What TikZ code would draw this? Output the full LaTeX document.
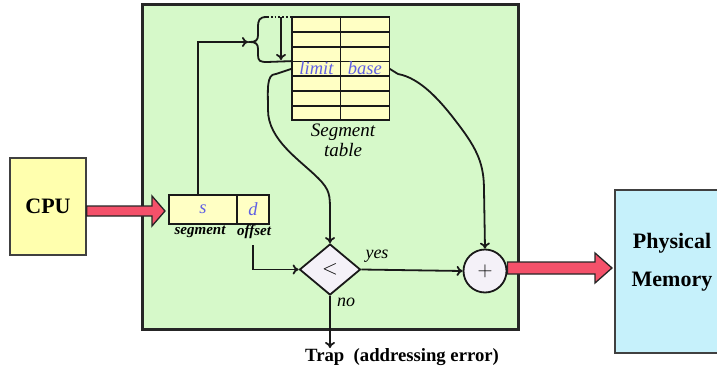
\documentclass[tikz,border=0pt]{standalone}
\usepackage{fontspec}
\setmainfont{Liberation Serif}
\usetikzlibrary{shapes.geometric,arrows.meta}
\definecolor{bggreen}{HTML}{D6F9C9}
\definecolor{cpuyel}{HTML}{FFFFAE}
\definecolor{cellyel}{HTML}{FFFFC4}
\definecolor{memcyan}{HTML}{C6F1FB}
\definecolor{arrred}{HTML}{F4516A}
\definecolor{lblue}{HTML}{6060E4}
\definecolor{dfill}{HTML}{F4F1F8}
\tikzset{
  line/.style={line width=1.8pt, draw=black!90},
  arr/.style={line, -{To[length=6pt,width=10pt]}},
  cell/.style={minimum width=48.5pt, minimum height=14.7pt, inner sep=0pt, anchor=north west},
  bigbox/.style={draw=black!75, line width=1.6pt, inner sep=0pt},
  fat/.style={fill=arrred, draw=black!85, line width=1.3pt},
  lbl/.style={text=lblue, font=\fontsize{18.5}{18}\selectfont\itshape},
}
\begin{document}
\begin{tikzpicture}[x=1pt,y=-1pt]
\useasboundingbox (0,0) rectangle (717,372);
% green region
\draw[fill=bggreen, draw=black!85, line width=3pt] (142,4) rectangle (518,329);
% CPU
\node[bigbox, fill=cpuyel, minimum width=76pt, minimum height=97pt, font=\fontsize{22}{22}\selectfont\bfseries] (cpu) at (48,206.5) {CPU};
% Physical memory
\node[bigbox, fill=memcyan, minimum width=104pt, minimum height=163pt] (mem) at (667,271.5) {};
\node[font=\fontsize{22}{38}\selectfont\bfseries, align=center] (memtxt) at (672,262) {Physical\\Memory};
% s d box
\node[draw=black!90, line width=1.8pt, fill=cellyel, minimum width=68pt, minimum height=29pt, inner sep=0pt, lbl] (s) at (203,209.5) {s};
\node[draw=black!90, line width=1.8pt, fill=cellyel, minimum width=32pt, minimum height=29pt, inner sep=0pt, lbl] (d) at (253,209.5) {d};
\node[font=\fontsize{15}{15}\selectfont\bfseries\itshape] (seglbl) at (200,232) {segment};
\node[font=\fontsize{15}{15}\selectfont\bfseries\itshape] (offlbl) at (254,232) {offset};
% segment table
\fill[cellyel] (292,17) rectangle (389,120);
\foreach \r in {1,...,7} {
  \node[cell] (c\r a) at (292,{17+(\r-1)*14.7}) {};
  \node[cell] (c\r b) at (340.5,{17+(\r-1)*14.7}) {};
}
\foreach \r in {1,...,6} { \draw[line] (c\r a.south west) -- (c\r b.south east); }
\draw[line] (c1b.north west) -- (c7b.south west);
\draw[line] (c1a.north west) rectangle (c7b.south east);
\node[lbl] (limit) at (c4a.center) {limit};
\node[lbl] (base) at (c4b.center) {base};
\node[font=\fontsize{19}{20}\selectfont\itshape, align=center] (tbl) at (343,140) {Segment\\table};
% brace
\draw[line] (267,17) .. controls (259,17) and (258,20) .. (258,28) -- (258,35)
  .. controls (258,40) and (256,42) .. (250,42)
  .. controls (256,42) and (258,44) .. (258,49) -- (258,55)
  .. controls (258,61) and (260,62) .. (267,62);
\coordinate (bracetip) at (248,42);
\draw[line, dotted] (267,17) -- (c1a.north west);
\draw[line] (267,62) -- (c4a.north west);
\draw[arr] (281,17) -- (281,60);
% s -> brace
\coordinate (sup) at (198,195);
\draw[arr] (sup) -- (198,42) -- (bracetip);
% diamond and adder
\node[diamond, draw=black!90, line width=1.8pt, fill=dfill, minimum width=61pt, minimum height=51pt, inner sep=0pt, font=\fontsize{22}{22}\selectfont] (cmp) at (330,269.5) {$<$};
\node[circle, draw=black!90, line width=1.8pt, fill=dfill, minimum size=43pt, inner sep=0pt, font=\fontsize{22}{22}\selectfont] (add) at (485,271) {$+$};
% offset -> compare
\coordinate (offdown) at (253,245);
\draw[arr] (offdown) -- (253,269.5) -- (cmp.west);
% limit -> compare
\draw[arr] (c4a.west) -- (276,74) .. controls (266,74) and (268,90) .. (268,110)
  .. controls (268,140) and (300,160) .. (318,178)
  .. controls (330,190) and (330,195) .. (330,212) -- (cmp.north);
% base -> adder
\draw[arr] (c4b.east) -- (398,74) .. controls (420,78) and (440,100) .. (458,124)
  .. controls (478,150) and (484,165) .. (484,190) -- (add.north);
% yes
\draw[arr] (cmp.east) -- (add.west);
\node[font=\fontsize{18}{18}\selectfont\itshape] (yes) at (377,256) {yes};
\node[font=\fontsize{18}{18}\selectfont\itshape] (no) at (346,302) {no};
% trap
\node[font=\fontsize{18.7}{18}\selectfont\bfseries, anchor=north west, inner sep=0pt] (trap) at (305,348) {Trap\ \ (addressing error)};
\draw[arr] (cmp.south) -- (330,348);
% fat arrows
\draw[fat] (cpu.east |- 0,206) -- (152,206) -- (152,196) -- (165,211) -- (152,226) -- (152,216) -- (cpu.east |- 0,216) -- cycle;
\draw[fat] (add.east |- 0,262) -- (595,262) -- (595,253) -- (612,268) -- (595,283) -- (595,274) -- (add.east |- 0,274) -- cycle;
\end{tikzpicture}
\end{document}
